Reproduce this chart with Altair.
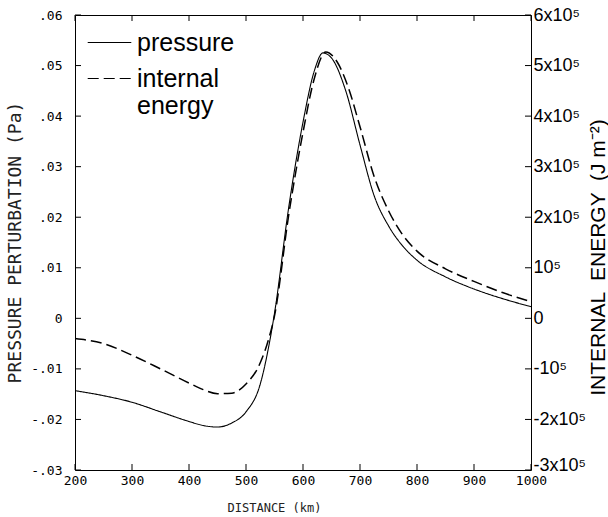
import altair as alt
import pandas as pd

# ---------------- data ----------------
pressure_km = [200, 250, 300, 350, 400, 425, 450, 475, 500, 525, 540, 550, 575, 600,
               620, 635, 650, 675, 700, 725, 750, 775, 800, 850, 900, 950, 1000]
pressure_pa = [-0.0143, -0.0153, -0.0166, -0.0185, -0.0204, -0.0212, -0.0215, -0.0207,
               -0.0185, -0.0130, -0.0055, 0.0010, 0.0220, 0.0388, 0.0490, 0.0525,
               0.0515, 0.0450, 0.0343, 0.0242, 0.0183, 0.0143, 0.0115, 0.0082,
               0.0058, 0.0039, 0.0023]

energy_km = [200, 250, 300, 350, 400, 425, 450, 475, 500, 525, 540, 550, 575, 600,
             620, 640, 660, 680, 700, 725, 750, 775, 800, 850, 900, 950, 1000]
energy_jm2 = [-40000, -50000, -73000, -100000, -128000, -141000, -149000, -148000,
              -130000, -88000, -40000, 5000, 205000, 368000, 475000, 527000, 507000,
              455000, 379000, 280000, 213000, 165000, 133000, 98000, 73000, 51000, 33000]

x_ticks = [200, 300, 400, 500, 600, 700, 800, 900, 1000]
y_ticks_pa = [-0.03, -0.02, -0.01, 0.0, 0.01, 0.02, 0.03, 0.04, 0.05, 0.06]
y_ticks_energy = [-300000, -200000, -100000, 0, 100000, 200000, 300000, 400000, 500000, 600000]

series_names = ["pressure", "internal energy"]

# ---------------- tables ----------------
p_df = pd.DataFrame({"distance": pressure_km, "value": pressure_pa, "series": series_names[0]})
e_df = pd.DataFrame({"distance": energy_km, "value": energy_jm2, "series": series_names[1]})
xt_df = pd.DataFrame({"tick": x_ticks})
ypt_df = pd.DataFrame({"tick": y_ticks_pa})
yet_df = pd.DataFrame({"tick": y_ticks_energy})

W, H = 456, 455
MONO = "DejaVu Sans Mono"
SANS = "Liberation Sans"
TICK = 6

xscale = alt.Scale(domain=[200, 1000], nice=False, zero=False)
yp_scale = alt.Scale(domain=[-0.03, 0.06], nice=False, zero=False)
ye_scale = alt.Scale(domain=[-300000, 600000], nice=False, zero=False)
dash_scale = alt.Scale(domain=series_names, range=[[1, 0], [11, 5]])

legend = alt.Legend(
    title=None, orient="none", legendX=12, legendY=5, padding=0,
    symbolType="stroke", symbolSize=1900, symbolStrokeWidth=1.2,
    symbolStrokeColor="black", labelFont=SANS, labelFontSize=25,
    labelColor="black", labelOffset=5, labelLimit=0, rowPadding=-3,
    labelExpr="datum.label == 'internal energy' ? ['internal', 'energy'] : datum.label",
)

x_axis = alt.Axis(
    orient="bottom", values=x_ticks, title="DISTANCE (km)", format="d",
    labelFont=MONO, labelFontSize=13, labelColor="black", labelPadding=4,
    labelFlush=False, labelOverlap=False, ticks=False, tickSize=0, domain=False, grid=False,
    titleFont=MONO, titleFontSize=12, titleFontWeight="normal", titleColor="#222",
    titleX=199, titleY=37, titleAlign="center", titleBaseline="middle",
)

left_axis = alt.Axis(
    orient="left", values=y_ticks_pa, title="PRESSURE PERTURBATION (Pa)",
    labelExpr="datum.value == 0 ? '0' : (datum.value < 0 ? '-' : '') + replace(format(abs(datum.value), '.2f'), '0.', '.')",
    labelFont=MONO, labelFontSize=13, labelColor="black", labelPadding=13,
    labelFlush=False, labelOverlap=False, ticks=False, tickSize=0, domain=False, grid=False,
    titleFont=MONO, titleFontSize=18, titleFontWeight="normal", titleColor="#222",
    titleAngle=270, titleX=-60, titleY=227, titleAlign="center", titleBaseline="middle",
)

right_axis = alt.Axis(
    orient="right", values=y_ticks_energy,
    title="INTERNAL \u00a0ENERGY \u00a0(J m\u207b\u00b2)",
    labelExpr="datum.value == 0 ? '0' : (datum.value < 0 ? '-' : '') + (abs(datum.value) == 100000 ? '' : (abs(datum.value) / 100000) + 'x') + '10\u2075'",
    labelFont=SANS, labelFontSize=18, labelColor="black", labelPadding=2, labelAlign="left",
    labelBaseline={"condition": {"test": "datum.value == -300000", "value": "alphabetic"}, "value": "middle"},
    labelFlush=False, labelOverlap=False, ticks=False, tickSize=0, domain=False, grid=False,
    titleFont=SANS, titleFontSize=21, titleFontWeight="normal", titleColor="black",
    titleAngle=270, titleX=73, titleY=242, titleAlign="center", titleBaseline="alphabetic",
)

pressure_line = alt.Chart(p_df).mark_line(color="black", strokeWidth=1.1, interpolate="monotone").encode(
    x=alt.X("distance:Q", scale=xscale, axis=x_axis),
    y=alt.Y("value:Q", scale=yp_scale, axis=left_axis),
    strokeDash=alt.StrokeDash("series:N", scale=dash_scale, legend=legend),
)

energy_line = alt.Chart(e_df).mark_line(color="black", strokeWidth=1.5, interpolate="monotone").encode(
    x=alt.X("distance:Q", scale=xscale, axis=x_axis),
    y=alt.Y("value:Q", scale=ye_scale, axis=right_axis),
    strokeDash=alt.StrokeDash("series:N", scale=dash_scale, legend=legend),
)

bottom_ticks = alt.Chart(xt_df).mark_rule(color="black", strokeWidth=1).encode(
    x=alt.X("tick:Q", scale=xscale, axis=x_axis), y=alt.value(H), y2=alt.value(H - TICK))
top_ticks = alt.Chart(xt_df).mark_rule(color="black", strokeWidth=1).encode(
    x=alt.X("tick:Q", scale=xscale, axis=x_axis), y=alt.value(0), y2=alt.value(TICK))
left_ticks = alt.Chart(ypt_df).mark_rule(color="black", strokeWidth=1).encode(
    y=alt.Y("tick:Q", scale=yp_scale, axis=None), x=alt.value(0), x2=alt.value(TICK))
right_ticks = alt.Chart(yet_df).mark_rule(color="black", strokeWidth=1).encode(
    y=alt.Y("tick:Q", scale=ye_scale, axis=None), x=alt.value(W - TICK), x2=alt.value(W))

chart = (
    alt.layer(pressure_line, energy_line, bottom_ticks, top_ticks, left_ticks, right_ticks)
    .resolve_scale(y="independent")
    .properties(
        width=W, height=H,
        padding={"left": 75, "top": 15, "right": 77, "bottom": 47},
        autosize=alt.AutoSizeParams(type="none"),
        background="white",
    )
    .configure_view(stroke="black", strokeWidth=1)
)

chart.save("out.html", embed_options={"renderer": "svg", "actions": False})
